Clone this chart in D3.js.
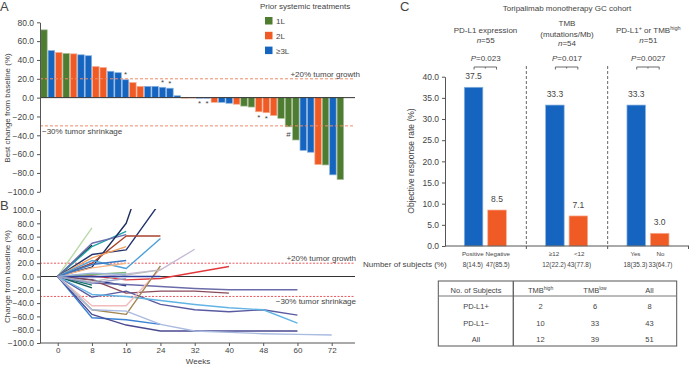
<!DOCTYPE html>
<html>
<head>
<meta charset="utf-8">
<script src="https://cdn.jsdelivr.net/npm/d3@7"></script>
<style>
body { margin: 0; background: #fff; }
svg { font-family: "Liberation Sans", Arial, sans-serif; }
</style>
</head>
<body>
<script>
// panel A: best change per patient
var barValues = [72, 50, 48, 47, 46.5, 45.5, 44.5, 33, 32, 28, 26.5, 19, 16, 12, 12, 12, 11, 10, 2, -0.5,
    -0.4, -0.6, -0.6, -5, -5, -6, -7, -9, -10, -15, -16, -19, -22, -31, -45, -56, -58, -71, -71.5, -82, -87];
var barLines = ["1L", "3L", "2L", "1L", "2L", "3L", "3L", "2L", "2L", "3L", "3L", "3L", "2L", "2L", "3L", "3L", "3L", "3L", "3L", "2L",
    "2L", "3L", "3L", "2L", "3L", "3L", "2L", "1L", "1L", "2L", "2L", "2L", "1L", "1L", "1L", "3L", "3L", "2L", "1L", "3L", "1L"];
var barMarkIndex = [11, 16, 17, 21, 22, 29, 30, 33];
var barMarkSymbol = ["*", "*", "*", "*", "*", "*", "*", "#"];
var lineKeys = ["1L", "2L", "3L"];
var lineLabels = ["1L", "2L", "\u22653L"];

// panel B: spider plot
var weekLabels = ["0", "8", "16", "24", "32", "40", "48", "60", "72"];
var spiderValues = [
    [0, 73],
    [0, 47],
    [0, 45, 68],
    [0, 50, 63],
    [0, 14, 80, 230],
    [0, 33, 40, 112],
    [0, 20, 61, 61],
    [0, 28, 45],
    [0, 24, 12, 57],
    [0, -2, 4, 10, 41],
    [0, 1, -5, -3, 6, 15],
    [0, 13, 20],
    [0, 18, 24],
    [0, 3, 6],
    [0, -13],
    [0, -17],
    [0, -5, -14],
    [0, -10, -12, -15, -18, -20, -20, -20],
    [0, -5, -25, -22, -22, -25],
    [0, -31, -22, -42, -50, -53, -50, -58],
    [0, -27, -30, -36, -42, -47, -50, -70],
    [0, -44, -44, 12],
    [0, -50, -57, 16],
    [0, -62, -65, -72],
    [0, -57, -73, -82, -82, -82, -82, -82],
    [0, -50, -52, -72, -82, -84, -86, -87, -88],
    [0, -8, 2, 10],
    [0, 0, 0, 0],
    [0, 5, 3],
    [0, -10, -3]
];
var spiderColors = ["#b9d9a9", "#1f1f1f", "#1ea3a8", "#6a6fb0", "#1c2c5e", "#22336e", "#a9432c", "#f2a05e",
    "#4d9fd9", "#c6bad6", "#e2383c", "#f5b487", "#3a78c4", "#7cb87a", "#1a7a72", "#145c58", "#2a3a8a",
    "#6b6ba9", "#8a4a5a", "#5a5aa2", "#62b4e4", "#f2bcbc", "#a38654", "#3b82d2", "#4a4a92", "#a9bbe0",
    "#bdbdbd", "#2e3f9e", "#9ab0d8", "#9aa0cc"];

// panel C: objective response rate
var groupValues = [[37.5, 8.5], [33.3, 7.1], [33.3, 3.0]];
var groupCategories = [["Positive", "Negative"], ["\u226512", "<12"], ["Yes", "No"]];
var groupSubjects = [["8(14.5)", "47(85.5)"], ["12(22.2)", "43(77.8)"], ["18(35.3)", "33(64.7)"]];
var groupP = ["0.023", "0.017", "0.0027"];
var groupN = ["55", "54", "51"];
var tableHeader = ["TMB|high", "TMB|low", "All"];
var tableRowNames = ["PD-L1+", "PD-L1\u2212", "All"];
var tableCounts = [[2, 6, 8], [10, 33, 43], [12, 39, 51]];

var textColor = "#444";
var axisColor = "#555";
var fmt = d3.format(".1f");

var svg = d3.select("body").append("svg")
    .attr("width", 689)
    .attr("height", 365);

function lighten(c, t) {
    return d3.interpolateRgb(c, "#fff")(t);
}

function styleAxis(g, size) {
    g.selectAll("path").attr("stroke", axisColor);
    g.selectAll("line").attr("stroke", axisColor);
    g.selectAll("text").attr("fill", textColor).style("font-size", size + "px");
}

function label(x, y, txt, size, anchor) {
    return svg.append("text")
        .attr("x", x)
        .attr("y", y)
        .attr("text-anchor", anchor || "start")
        .attr("fill", textColor)
        .style("font-size", size + "px")
        .text(txt);
}

// ---------- A ----------
label(0, 11, "A", 13);

var ax = d3.scaleBand().domain(d3.range(barValues.length)).range([40.7, 343.6]).paddingInner(0.12);
var ay = d3.scaleLinear().domain([-100, 80]).range([191.8, 22.3]);
var lineColor = d3.scaleOrdinal().domain(lineKeys).range(["#4e7d32", "#f05a24", "#1565c0"]);

svg.selectAll(".wbar")
    .data(barValues)
    .enter().append("rect")
    .attr("class", "wbar")
    .attr("x", function(d, i) { return ax(i); })
    .attr("width", ax.bandwidth())
    .attr("y", function(d) { return ay(Math.max(d, 0)); })
    .attr("height", function(d) { return Math.abs(ay(d) - ay(0)); })
    .attr("fill", function(d, i) { return lineColor(barLines[i]); })
    .attr("stroke", function(d, i) { return lighten(lineColor(barLines[i]), 0.5); })
    .attr("stroke-width", 0.7);

svg.selectAll(".wmark")
    .data(barMarkIndex)
    .enter().append("text")
    .attr("class", "wmark")
    .attr("x", function(d) { return ax(d) + ax.bandwidth() / 2; })
    .attr("y", function(d, i) {
        var v = barValues[d];
        if (v > 2) return ay(v) - 2.5;
        return ay(Math.min(v, 0)) + (barMarkSymbol[i] == "#" ? 10 : 8);
    })
    .attr("text-anchor", "middle")
    .attr("fill", textColor)
    .style("font-size", "8px")
    .text(function(d, i) { return barMarkSymbol[i]; });

svg.append("line")
    .attr("x1", 40).attr("x2", 355)
    .attr("y1", ay(0)).attr("y2", ay(0))
    .attr("stroke", "#333").attr("stroke-width", 1);

[20, -30].forEach(function(v) {
    svg.append("line")
        .attr("x1", 40).attr("x2", 355)
        .attr("y1", ay(v)).attr("y2", ay(v))
        .attr("stroke", "#f08a68")
        .attr("stroke-dasharray", "3,2");
});
label(360, ay(20) - 2, "+20% tumor growth", 8, "end");
label(42, ay(-30) + 8, "\u221230% tumor shrinkage", 8);

svg.append("g")
    .attr("transform", "translate(40,0)")
    .call(d3.axisLeft(ay).tickValues(d3.range(-100, 81, 20)).tickFormat(fmt).tickSize(3).tickSizeOuter(0))
    .call(styleAxis, 8.5);

svg.append("text")
    .attr("transform", "translate(10," + 108 + ") rotate(-90)")
    .attr("text-anchor", "middle")
    .attr("fill", textColor)
    .style("font-size", "8px")
    .text("Best change from baseline (%)");

label(260, 9, "Prior systemic treatments", 8);
lineKeys.forEach(function(k, i) {
    svg.append("rect")
        .attr("x", 265)
        .attr("y", 17 + i * 14.8)
        .attr("width", 7.5)
        .attr("height", 7.5)
        .attr("fill", lineColor(k));
    label(276, 24 + i * 14.8, lineLabels[i], 8);
});

// ---------- B ----------
label(0, 209.5, "B", 13);

var bx = d3.scalePoint().domain(weekLabels).range([57.7, 331.7]);
var by = d3.scaleLinear().domain([-100, 100]).range([343, 210]);

svg.append("clipPath").attr("id", "spiderClip")
    .append("rect")
    .attr("x", 40).attr("y", 209)
    .attr("width", 316).attr("height", 135);

svg.append("line")
    .attr("x1", 40).attr("x2", 355)
    .attr("y1", by(0)).attr("y2", by(0))
    .attr("stroke", "#333");

[20, -30].forEach(function(v) {
    svg.append("line")
        .attr("x1", 40).attr("x2", 355)
        .attr("y1", by(v)).attr("y2", by(v))
        .attr("stroke", "#e6454a")
        .attr("stroke-width", 0.9)
        .attr("stroke-dasharray", "2,1.5");
});
label(356, by(20) - 2, "+20% tumor growth", 8, "end");
label(356, by(-30) + 8, "\u221230% tumor shrinkage", 8, "end");

var spiderLine = d3.line()
    .x(function(d, i) { return bx(weekLabels[i]); })
    .y(function(d) { return by(d); });

svg.append("g")
    .attr("clip-path", "url(#spiderClip)")
    .selectAll("path")
    .data(spiderValues)
    .enter().append("path")
    .attr("d", spiderLine)
    .attr("fill", "none")
    .attr("stroke", function(d, i) { return spiderColors[i]; })
    .attr("stroke-width", 1.4)
    .attr("stroke-linejoin", "round");

svg.append("g")
    .attr("transform", "translate(40,0)")
    .call(d3.axisLeft(by).tickValues(d3.range(-100, 101, 20)).tickFormat(fmt).tickSize(3).tickSizeOuter(0))
    .call(styleAxis, 8.5);

var bxAxis = svg.append("g")
    .attr("transform", "translate(0,343)")
    .call(d3.axisBottom(bx).tickSize(3).tickPadding(1.5).tickSizeOuter(0))
    .call(styleAxis, 8);
bxAxis.select(".domain").remove();
svg.append("line")
    .attr("x1", 40).attr("x2", 355)
    .attr("y1", 343).attr("y2", 343)
    .attr("stroke", axisColor);

label(198, 364, "Weeks", 8, "middle");

svg.append("text")
    .attr("transform", "translate(10," + 276.5 + ") rotate(-90)")
    .attr("text-anchor", "middle")
    .attr("fill", textColor)
    .style("font-size", "8px")
    .text("Change from baseline (%)");

// ---------- C ----------
label(400, 10.5, "C", 13);
label(567, 11, "Toripalimab monotherapy GC cohort", 8, "middle");

var cx0 = d3.scaleBand().domain(d3.range(groupValues.length)).range([445, 689]);
var cx1 = d3.scaleBand().domain([0, 1]).range([19.3, 61.3]).paddingInner(0.21);
var cy = d3.scaleLinear().domain([0, 40]).range([246, 76.7]);
var cColor = ["#1565c0", "#f05a24"];

function center(g, k) {
    return cx0(g) + cx1(k) + cx1.bandwidth() / 2;
}

groupValues.forEach(function(vals, g) {
    var grp = svg.append("g");
    grp.selectAll("rect")
        .data(vals)
        .enter().append("rect")
        .attr("x", function(d, k) { return cx0(g) + cx1(k); })
        .attr("width", cx1.bandwidth())
        .attr("y", function(d) { return cy(d); })
        .attr("height", function(d) { return cy(0) - cy(d); })
        .attr("fill", function(d, k) { return cColor[k]; })
        .attr("stroke", function(d, k) { return lighten(cColor[k], 0.5); })
        .attr("stroke-width", 0.7);
    grp.selectAll(".val")
        .data(vals)
        .enter().append("text")
        .attr("x", function(d, k) { return center(g, k); })
        .attr("y", function(d) { return cy(d) - 8; })
        .attr("text-anchor", "middle")
        .attr("fill", textColor)
        .style("font-size", "8.5px")
        .text(function(d) { return fmt(d); });
    groupCategories[g].forEach(function(c, k) {
        var shift = k == 0 ? -0.8 : 0.8;
        label(center(g, k) + shift, 256, c, 6.2, "middle");
        label(center(g, k) + shift, 267, groupSubjects[g][k], 6.4, "middle");
    });

    var mid = cx0(g) + cx0.bandwidth() / 2;
    var x1 = center(g, 0) + 0.5, x2 = center(g, 1) - 0.5;
    svg.append("path")
        .attr("d", "M" + x1 + ",69.5V67H" + x2 + "V69.5M" + ((x1 + x2) / 2) + ",67V68.5")
        .attr("fill", "none")
        .attr("stroke", textColor)
        .attr("stroke-width", 0.8);
    var pt = label(mid, 61, "", 8, "middle");
    pt.append("tspan").style("font-style", "italic").text("P");
    pt.append("tspan").text("=" + groupP[g]);

    var nt = label(mid, g == 1 ? 46 : 43, "", 8, "middle");
    nt.append("tspan").style("font-style", "italic").text("n");
    nt.append("tspan").text("=" + groupN[g]);

    if (g > 0) {
        svg.append("line")
            .attr("x1", cx0(g)).attr("x2", cx0(g))
            .attr("y1", 66).attr("y2", 246)
            .attr("stroke", "#666")
            .attr("stroke-dasharray", "3,2");
    }
});

label(485.5, 33, "PD-L1 expression", 8, "middle");
label(567, 25.5, "TMB", 8, "middle");
label(567, 36.5, "(mutations/Mb)", 8, "middle");
var h3 = label(648.3, 33, "", 8, "middle");
h3.append("tspan").text("PD-L1");
h3.append("tspan").attr("dy", -3).style("font-size", "5.5px").text("+");
h3.append("tspan").attr("dy", 3).text(" or TMB");
h3.append("tspan").attr("dy", -3).style("font-size", "5.5px").text("high");

svg.append("g")
    .attr("transform", "translate(445,0)")
    .call(d3.axisLeft(cy).tickValues(d3.range(0, 41, 5)).tickFormat(fmt).tickSize(3).tickSizeOuter(0))
    .call(styleAxis, 8.5);

svg.append("line")
    .attr("x1", 445).attr("x2", 689)
    .attr("y1", 246).attr("y2", 246)
    .attr("stroke", axisColor);
svg.selectAll(".ctick")
    .data([1, 2, 3])
    .enter().append("line")
    .attr("class", "ctick")
    .attr("x1", function(d) { return d < 3 ? cx0(d) : 688.5; })
    .attr("x2", function(d) { return d < 3 ? cx0(d) : 688.5; })
    .attr("y1", 246).attr("y2", 249)
    .attr("stroke", axisColor);

svg.append("text")
    .attr("transform", "translate(414," + 161 + ") rotate(-90)")
    .attr("text-anchor", "middle")
    .attr("fill", textColor)
    .style("font-size", "8.5px")
    .text("Objective response rate (%)");

label(363, 267, "Number of subjects (%)", 8);

// table
var tx = d3.scaleBand().domain(d3.range(tableHeader.length)).range([513.3, 676.7]);
var ty = d3.scaleBand().domain(d3.range(tableRowNames.length)).range([296, 346]);

svg.append("rect")
    .attr("x", 438.3).attr("y", 281)
    .attr("width", 676.7 - 438.3).attr("height", 65)
    .attr("fill", "none")
    .attr("stroke", "#555");
svg.append("line")
    .attr("x1", 438.3).attr("x2", 676.7)
    .attr("y1", 296).attr("y2", 296)
    .attr("stroke", "#777");
svg.append("line")
    .attr("x1", 513.3).attr("x2", 513.3)
    .attr("y1", 281).attr("y2", 346)
    .attr("stroke", "#666")
    .attr("stroke-width", 1.4);

label(476, 292.5, "No. of Subjects", 7.5, "middle");
tableHeader.forEach(function(h, j) {
    var parts = h.split("|");
    var t = label(tx(j) + tx.bandwidth() / 2, 292.5, "", 7.5, "middle");
    t.append("tspan").text(parts[0]);
    if (parts[1]) t.append("tspan").attr("dy", -3).style("font-size", "5px").text(parts[1]);
});
tableRowNames.forEach(function(r, i) {
    var yy = ty(i) + ty.bandwidth() / 2 + 4.5;
    label(476, yy, r, 7.5, "middle");
    tableCounts[i].forEach(function(c, j) {
        label(tx(j) + tx.bandwidth() / 2, yy, c, 7.5, "middle");
    });
});
</script>
</body>
</html>
